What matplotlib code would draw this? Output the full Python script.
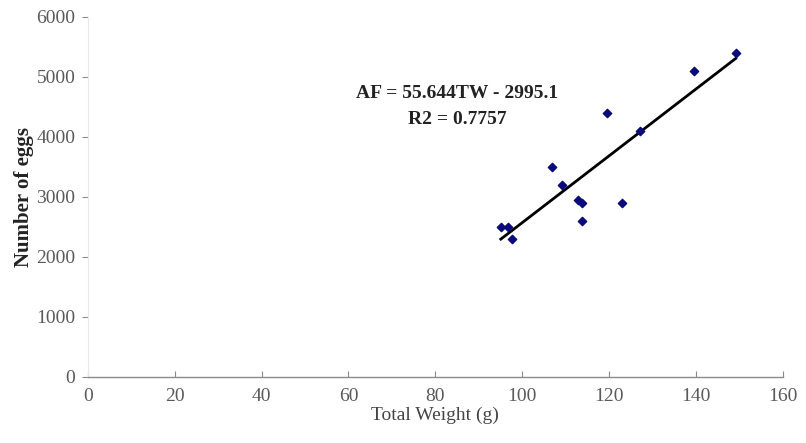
import numpy as np
import matplotlib

matplotlib.use("Agg")
import matplotlib.pyplot as plt

# total weight (g) vs number of eggs
total_weight = [149.2, 139.5, 119.5, 127.1, 106.8, 109.3, 112.8, 113.9, 122.9, 113.9, 95.1, 96.7, 97.6]
num_eggs = [5400, 5100, 4400, 4100, 3500, 3200, 2950, 2900, 2900, 2600, 2500, 2500, 2300]

# trendline as printed on the chart
slope, intercept, r2 = 55.644, -2995.1, 0.7757

x_ticks = [0, 20, 40, 60, 80, 100, 120, 140, 160]
y_ticks = [0, 1000, 2000, 3000, 4000, 5000, 6000]

SERIF = ["Liberation Serif", "DejaVu Serif"]
TICK_GREY = "#5a5a5a"
AXIS_GREY = "#8a8a8a"
NAVY = "#0a0a7a"

plt.rcParams["font.family"] = SERIF

fig = plt.figure(figsize=(8.06, 4.43), dpi=100)
ax = fig.add_axes([0.109, 0.149, 0.862, 0.813])

ax.scatter(total_weight, num_eggs, marker="D", s=18, color=NAVY, zorder=3)

xs = np.array([min(total_weight), max(total_weight)])
ax.plot(xs, slope * xs + intercept, color="black", linewidth=2, zorder=2)

ax.text(85, 4720, f"AF = {slope}TW - {-intercept}", ha="center", va="center",
        fontsize=14, fontweight="bold", color="#222222")
ax.text(85, 4290, f"R2 = {r2}", ha="center", va="center",
        fontsize=14, fontweight="bold", color="#222222")

ax.set_xlim(0, 160)
ax.set_ylim(0, 6000)
ax.set_xticks(x_ticks)
ax.set_yticks(y_ticks)

for side in ("top", "right"):
    ax.spines[side].set_visible(False)
ax.spines["left"].set_color("#e8e8e8")
ax.spines["left"].set_linewidth(0.8)
ax.spines["bottom"].set_color(AXIS_GREY)
ax.spines["bottom"].set_linewidth(1.0)

ax.tick_params(axis="y", direction="out", length=4, color=AXIS_GREY, labelsize=14,
               labelcolor=TICK_GREY, pad=5)
ax.tick_params(axis="x", direction="in", length=4, color=AXIS_GREY, labelsize=14,
               labelcolor=TICK_GREY, pad=8)

ax.set_xlabel("Total Weight (g)", fontsize=14, color="#444444", labelpad=1)
ax.set_ylabel("Number of eggs", fontsize=15, fontweight="bold", color="#222222")
ax.yaxis.set_label_coords(-0.078, 0.5)

fig.savefig("out.png", dpi=100)
